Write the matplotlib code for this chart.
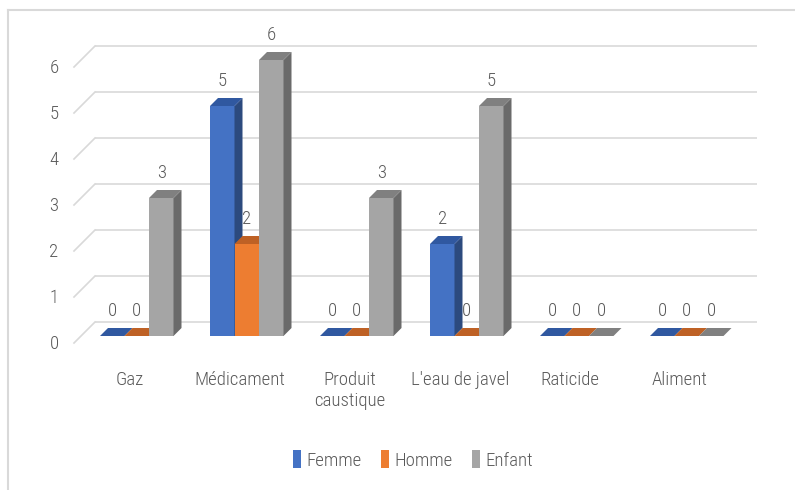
import matplotlib
matplotlib.use("Agg")
import matplotlib.pyplot as plt
from matplotlib.patches import Polygon, Patch
from matplotlib.lines import Line2D

plt.rcParams["font.family"] = ["Roboto Condensed", "Carlito", "DejaVu Sans"]
plt.rcParams["font.weight"] = "light"

categories = ["Gaz", "Médicament", "Produit\ncaustique", "L'eau de javel", "Raticide", "Aliment"]
series = ["Femme", "Homme", "Enfant"]
femme = [0, 5, 0, 2, 0, 0]
homme = [0, 2, 0, 0, 0, 0]
enfant = [3, 6, 3, 5, 0, 0]
y_ticks = [0, 1, 2, 3, 4, 5, 6]

# front, top, side shades for each series
shades = {
    "Femme": ("#4472C4", "#3058A0", "#2C4A7E"),
    "Homme": ("#ED7D31", "#BE6125", "#A9561E"),
    "Enfant": ("#A5A5A5", "#808080", "#6A6A6A"),
}
TEXT = "#595959"
GRID = "#D9D9D9"
FS = 13.5

# pixel layout of the fake 3D scene
W, H = 795, 490
X0, CAT, UNIT, Y0 = 136.75, 110.0, 46.0, 336.0
bw = 24.5 / CAT
dx, dy = 8 / CAT, 8 / UNIT


def px(x):
    return (x - X0) / CAT


def pv(dy_px):
    return dy_px / UNIT


fig = plt.figure(figsize=(W / 100, H / 100), dpi=100)
ax = fig.add_axes([0, 0, 1, 1])
ax.set_xlim(px(0), px(W))
ax.set_ylim(-(H - Y0) / UNIT, Y0 / UNIT)
ax.axis("off")

# back wall gridlines with the slanted left-wall segment
for v in y_ticks:
    yb = v + pv(14)
    ax.plot([px(95), px(757)], [yb, yb], color=GRID, lw=1.2, zorder=1,
            solid_capstyle="butt")
    ax.plot([px(74), px(95)], [v - pv(7), yb], color=GRID, lw=1.2, zorder=1)
    ax.text(px(54), v - pv(8), str(v), ha="center", va="center",
            fontsize=FS, color=TEXT)

values = [femme, homme, enfant]
z = 2
for i in range(len(categories)):
    for j, name in enumerate(series):
        front, top, side = shades[name]
        v = values[j][i]
        x1 = i + (j - 1) * bw - bw / 2
        x2 = x1 + bw
        if v > 0:
            ax.add_patch(Polygon([(x1, 0), (x2, 0), (x2, v), (x1, v)],
                                 closed=True, fc=front, ec="none", zorder=z))
            ax.add_patch(Polygon([(x2, 0), (x2 + dx, dy), (x2 + dx, v + dy), (x2, v)],
                                 closed=True, fc=side, ec="none", zorder=z))
        ax.add_patch(Polygon([(x1, v), (x2, v), (x2 + dx, v + dy), (x1 + dx, v + dy)],
                             closed=True, fc=top, ec="none", zorder=z))
        z += 1
        ax.text((x1 + x2) / 2, v + pv(25), str(v), ha="center", va="center",
                fontsize=FS, color=TEXT, zorder=100)
    ax.text(i - 7 / CAT, -pv(35), categories[i], ha="center", va="top",
            fontsize=FS, color=TEXT, linespacing=1.25)

handles = [Patch(fc=shades[s][0], ec="none", label=s) for s in series]
ax.legend(handles=handles, loc="center", bbox_to_anchor=(413 / W, 1 - 460 / H),
          ncol=3, frameon=False, handlelength=0.45, handleheight=1.1,
          handletextpad=0.3, columnspacing=1.0, fontsize=FS, labelcolor=TEXT)

# chart area border (top and left edges only are inside the image)
fig.add_artist(Line2D([8 / W, 1], [1 - 10 / H, 1 - 10 / H], transform=fig.transFigure,
                      color=GRID, lw=1.5))
fig.add_artist(Line2D([8 / W, 8 / W], [0, 1 - 10 / H], transform=fig.transFigure,
                      color=GRID, lw=1.5))

fig.savefig("out.png", dpi=100)
